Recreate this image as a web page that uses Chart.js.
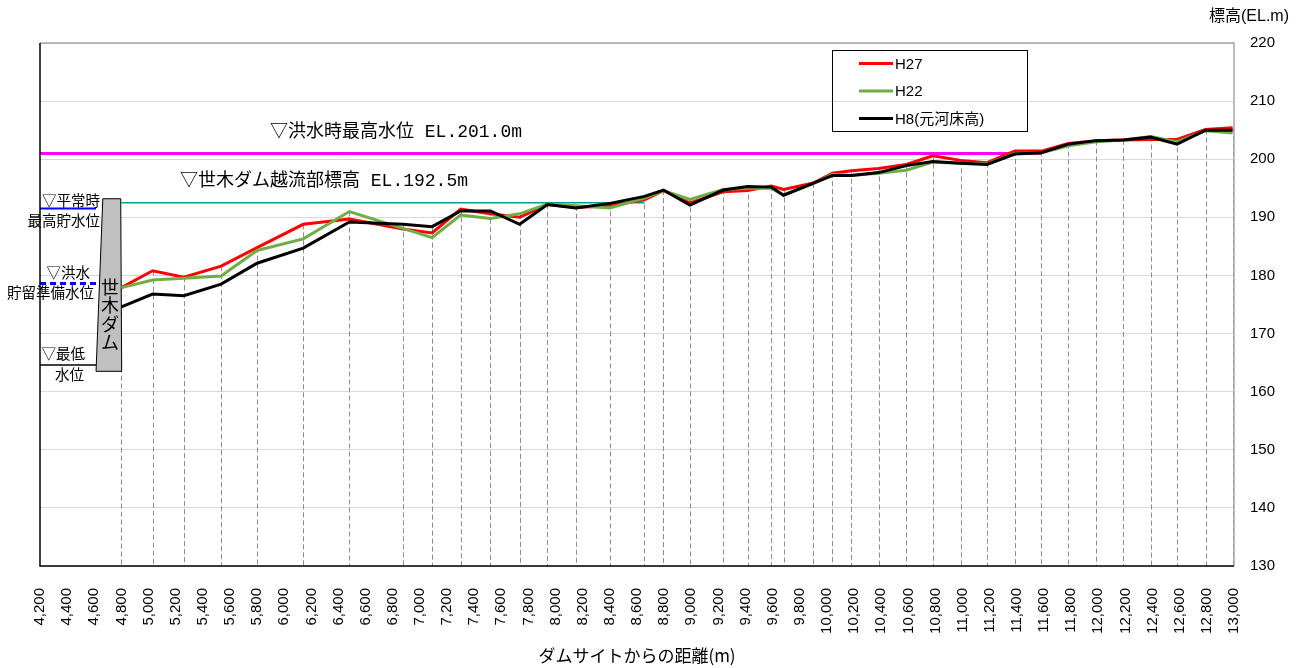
<!DOCTYPE html>
<html lang="ja">
<head>
<meta charset="utf-8">
<script src="https://cdn.jsdelivr.net/npm/chart.js@4.4.1/dist/chart.umd.min.js"></script>
<style>
  html, body { margin: 0; padding: 0; background: #fff; }
  #wrap { width: 1298px; height: 668px; }
</style>
</head>
<body>
<div id="wrap"><canvas id="chart" width="1298" height="668"></canvas></div>
<script>
// distance from dam site (m) of each surveyed cross section
const distances = [4800, 5030, 5260, 5535, 5800, 6140, 6480, 6875, 7090, 7300,
    7520, 7735, 7940, 8150, 8400, 8655, 8795, 8990, 9235, 9415,
    9590, 9680, 9900, 10040, 10180, 10380, 10585, 10780, 10985, 11180,
    11385, 11580, 11780, 11985, 12185, 12385, 12580, 12790, 12990];

// bed elevation (EL.m)
const elevH27 = [177.9, 180.8, 179.7, 181.6, 184.8, 188.8, 189.7, 188.0, 187.3, 191.4,
    190.6, 190.0, 192.2, 191.7, 192.0, 193.0, 194.6, 192.5, 194.4, 194.6,
    195.4, 194.8, 195.9, 197.6, 198.0, 198.4, 199.1, 200.6, 199.8, 199.4,
    201.4, 201.4, 202.7, 203.2, 203.3, 203.4, 203.4, 205.1, 205.4];
const elevH22 = [177.9, 179.2, 179.5, 179.9, 184.3, 186.3, 191.0, 188.1, 186.5, 190.4,
    189.8, 190.6, 192.3, 192.0, 191.6, 193.3, 194.6, 193.1, 194.8, 195.0,
    195.0, 193.8, 195.8, 197.4, 197.2, 197.6, 198.1, 199.5, 199.3, 199.2,
    201.0, 201.1, 202.3, 203.0, 203.3, 203.9, 203.0, 204.9, 204.5];
const elevH8 = [174.6, 176.8, 176.5, 178.5, 182.1, 184.7, 189.2, 188.8, 188.4, 191.1,
    191.1, 188.8, 192.2, 191.6, 192.4, 193.6, 194.7, 192.1, 194.7, 195.3,
    195.2, 193.8, 195.9, 197.2, 197.2, 197.7, 198.9, 199.6, 199.3, 199.1,
    200.9, 201.1, 202.6, 203.2, 203.3, 203.8, 202.6, 205.0, 205.0];

const seriesNames = ['H27', 'H22', 'H8(元河床高)'];
const seriesColors = ['#ff0000', '#70ad47', '#000000'];

// water levels (EL.m) and the distances they span
const floodMaxLevel = 201.0;      const floodMaxSpan = [4200, 11580];
const spillwayLevel = 192.5;      const spillwaySpan = [4800, 8655];
const normalMaxLevel = 191.5;     const leftSpan = [4200, 4613];
const floodStorageLevel = 178.6;
const minLevel = 164.6;

// dam body outline (distance, elevation)
const damX = [4663, 4795, 4802, 4613, 4663];
const damY = [193.2, 193.2, 163.5, 163.5, 193.2];

// axes
const xMin = 4200, xMax = 13000, xStep = 200;
const yMin = 130, yMax = 220, yStep = 10;

const CJK = '"Noto Sans CJK JP"';
const pts = (xs, ys) => xs.map((x, i) => ({ x: x, y: ys[i] }));
const flat = (span, level) => [{ x: span[0], y: level }, { x: span[1], y: level }];

// dashed verticals at each section, plot frame
const sectionLines = {
    id: 'sectionLines',
    beforeDatasetsDraw(chart) {
        const { ctx, scales: { x, y }, chartArea } = chart;
        ctx.save();
        ctx.strokeStyle = '#8c8c8c';
        ctx.lineWidth = 1;
        ctx.setLineDash([5, 3]);
        distances.forEach((d, i) => {
            const top = Math.max(elevH27[i], elevH22[i], elevH8[i]);
            const px = Math.round(x.getPixelForValue(d)) + 0.5;
            ctx.beginPath();
            ctx.moveTo(px, y.getPixelForValue(top));
            ctx.lineTo(px, chartArea.bottom);
            ctx.stroke();
        });
        ctx.restore();
    },
    afterDraw(chart) {
        const { ctx, chartArea: a } = chart;
        ctx.save();
        ctx.strokeStyle = '#a6a6a6';
        ctx.lineWidth = 1.5;
        ctx.beginPath();
        ctx.moveTo(a.left, a.top);
        ctx.lineTo(a.right, a.top);
        ctx.lineTo(a.right, a.bottom);
        ctx.stroke();
        ctx.strokeStyle = '#000';
        ctx.beginPath();
        ctx.moveTo(a.left, a.top);
        ctx.lineTo(a.left, a.bottom);
        ctx.lineTo(a.right, a.bottom);
        ctx.stroke();
        ctx.restore();
    }
};

// text notes and legend
const notes = {
    id: 'notes',
    afterDraw(chart) {
        const ctx = chart.ctx;
        ctx.save();
        ctx.fillStyle = '#000';
        ctx.textBaseline = 'middle';

        ctx.font = '18px "Liberation Mono", ' + CJK;
        ctx.textAlign = 'left';
        ctx.fillText('▽洪水時最高水位 EL.201.0m', 270, 132);
        ctx.fillText('▽世木ダム越流部標高 EL.192.5m', 180, 181);

        ctx.font = '14.5px ' + CJK;
        ctx.textAlign = 'right';
        ctx.fillText('▽平常時', 100, 200);
        ctx.fillText('最高貯水位', 100, 220);
        ctx.fillText('▽洪水', 90, 272);
        ctx.fillText('貯留準備水位', 94, 292);
        ctx.fillText('▽最低', 85, 353);
        ctx.fillText('水位', 84, 374);

        ctx.font = '18px ' + CJK;
        ctx.textAlign = 'center';
        ['世', '木', 'ダ', 'ム'].forEach((c, i) => ctx.fillText(c, 110, 287 + i * 18.5));

        ctx.font = '16px "Liberation Sans", ' + CJK;
        ctx.textAlign = 'right';
        ctx.fillText('標高(EL.m)', 1289, 17);

        // legend
        ctx.lineWidth = 1;
        ctx.strokeStyle = '#000';
        ctx.strokeRect(832.5, 50.5, 195, 81);
        ctx.font = '15px "Liberation Sans", ' + CJK;
        ctx.textAlign = 'left';
        seriesNames.forEach((name, i) => {
            const ly = 63.5 + i * 27.5;
            ctx.strokeStyle = seriesColors[i];
            ctx.lineWidth = 3;
            ctx.beginPath();
            ctx.moveTo(859, ly);
            ctx.lineTo(893, ly);
            ctx.stroke();
            ctx.fillText(name, 895, ly + 1);
        });
        ctx.restore();
    }
};

const lineSet = (label, data, color, width, order, extra) => Object.assign({
    label: label,
    data: data,
    borderColor: color,
    backgroundColor: color,
    borderWidth: width,
    pointRadius: 0,
    tension: 0,
    fill: false,
    order: order
}, extra || {});

new Chart(document.getElementById('chart'), {
    type: 'line',
    data: {
        datasets: [
            lineSet(seriesNames[2], pts(distances, elevH8), seriesColors[2], 3, 0),
            lineSet(seriesNames[1], pts(distances, elevH22), seriesColors[1], 3, 1),
            lineSet(seriesNames[0], pts(distances, elevH27), seriesColors[0], 3, 2),
            lineSet('dam', pts(damX, damY), '#000', 1, 3, { fill: 'shape', backgroundColor: '#c0c0c0' }),
            lineSet('flood max', flat(floodMaxSpan, floodMaxLevel), '#ff00ff', 3, 4),
            lineSet('spillway', flat(spillwaySpan, spillwayLevel), '#009999', 1.5, 4),
            lineSet('normal max', flat(leftSpan, normalMaxLevel), '#0000ff', 2, 4),
            lineSet('flood storage', flat(leftSpan, floodStorageLevel), '#0000ff', 3, 4, { borderDash: [6, 4] }),
            lineSet('minimum', flat(leftSpan, minLevel), '#000', 1.5, 4)
        ]
    },
    options: {
        responsive: false,
        animation: false,
        layout: { padding: { left: 40, top: 43, right: 0, bottom: 0 } },
        plugins: {
            legend: { display: false },
            tooltip: { enabled: false }
        },
        scales: {
            x: {
                type: 'linear',
                min: xMin,
                max: xMax,
                grid: { display: false },
                border: { display: false },
                ticks: {
                    stepSize: xStep,
                    autoSkip: false,
                    minRotation: 90,
                    maxRotation: 90,
                    padding: 14,
                    color: '#000',
                    font: { family: 'Liberation Sans', size: 15 },
                    callback: v => v.toLocaleString('en-US')
                },
                title: {
                    display: true,
                    text: 'ダムサイトからの距離(m)',
                    color: '#000',
                    font: { family: 'Noto Sans CJK JP', size: 17 },
                    padding: { top: 0, bottom: 2 }
                },
                afterFit: s => { s.height = 102; }
            },
            y: {
                position: 'right',
                min: yMin,
                max: yMax,
                grid: { color: '#d9d9d9', drawTicks: false },
                border: { display: false },
                ticks: {
                    stepSize: yStep,
                    padding: 16,
                    color: '#000',
                    font: { family: 'Liberation Sans', size: 15 }
                },
                afterFit: s => { s.width = 64; }
            }
        }
    },
    plugins: [sectionLines, notes]
});
</script>
</body>
</html>
